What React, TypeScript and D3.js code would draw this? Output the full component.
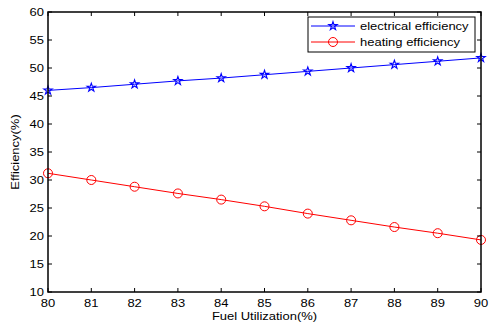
import * as d3 from "d3";

const utilization = [80, 81, 82, 83, 84, 85, 86, 87, 88, 89, 90];
const electrical = [46.0, 46.5, 47.1, 47.7, 48.2, 48.8, 49.4, 50.0, 50.6, 51.2, 51.8];
const heating = [31.2, 30.0, 28.8, 27.6, 26.5, 25.3, 24.0, 22.8, 21.6, 20.5, 19.3];
const yTicks = [10, 15, 20, 25, 30, 35, 40, 45, 50, 55, 60];
const seriesNames = ["electrical efficiency", "heating efficiency"];

const width = 492;
const height = 324;
const m = { left: 48, right: 11, top: 12, bottom: 32 };
const font = "Liberation Sans, Arial, sans-serif";

// MATLAB-style text looks a bit wider than Arial, so stretch it horizontally
const Label = ({
  x,
  y,
  anchor = "start",
  rotate = 0,
  children,
}: {
  x: number;
  y: number;
  anchor?: "start" | "middle" | "end";
  rotate?: number;
  children: React.ReactNode;
}) => (
  <text
    transform={`translate(${x},${y}) rotate(${rotate}) scale(1.18,1)`}
    textAnchor={anchor}
    fontFamily={font}
    fontSize={11}
  >
    {children}
  </text>
);

const App = () => {
  const x = d3
    .scaleLinear()
    .domain([80, 90])
    .range([m.left, width - m.right]);
  const y = d3
    .scaleLinear()
    .domain([10, 60])
    .range([height - m.bottom, m.top]);

  const line = d3
    .line<number>()
    .x((_, i) => x(utilization[i]))
    .y((d) => y(d));

  const star = d3.symbol(d3.symbolStar, 22)() ?? "";
  const x0 = m.left;
  const x1 = width - m.right;
  const y0 = height - m.bottom;
  const y1 = m.top;
  const tl = 4;

  return (
    <svg
      width={width}
      height={height}
      style={{ position: "absolute", left: 0, top: 0, background: "#fff" }}
    >
      {/* series */}
      <path d={line(electrical) ?? undefined} fill="none" stroke="#0000ff" strokeWidth={1} />
      {electrical.map((d, i) => (
        <path
          key={i}
          d={star}
          transform={`translate(${x(utilization[i])},${y(d)})`}
          fill="none"
          stroke="#0000ff"
          strokeWidth={1.1}
        />
      ))}
      <path d={line(heating) ?? undefined} fill="none" stroke="#ff0000" strokeWidth={1} />
      {heating.map((d, i) => (
        <circle
          key={i}
          cx={x(utilization[i])}
          cy={y(d)}
          r={4.5}
          fill="none"
          stroke="#ff0000"
          strokeWidth={1}
        />
      ))}

      {/* axes box */}
      <rect x={x0} y={y1} width={x1 - x0} height={y0 - y1} fill="none" stroke="#000" strokeWidth={1.5} />
      {utilization.map((t) => (
        <g key={t}>
          <line x1={x(t)} x2={x(t)} y1={y0} y2={y0 - tl} stroke="#000" />
          <line x1={x(t)} x2={x(t)} y1={y1} y2={y1 + tl} stroke="#000" />
          <Label x={x(t)} y={y0 + 15} anchor="middle">
            {t}
          </Label>
        </g>
      ))}
      {yTicks.map((t) => (
        <g key={t}>
          <line x1={x0} x2={x0 + tl} y1={y(t)} y2={y(t)} stroke="#000" />
          <line x1={x1} x2={x1 - tl} y1={y(t)} y2={y(t)} stroke="#000" />
          <Label x={x0 - 4} y={y(t) + 4} anchor="end">
            {t}
          </Label>
        </g>
      ))}

      <Label x={(x0 + x1) / 2} y={height - 4} anchor="middle">
        Fuel Utilization(%)
      </Label>
      <Label x={19} y={(y0 + y1) / 2} anchor="middle" rotate={-90}>
        Efficiency(%)
      </Label>

      {/* legend */}
      <rect x={308} y={17} width={167} height={35} fill="#fff" stroke="#000" strokeWidth={1} />
      {seriesNames.map((name, i) => {
        const ly = 26 + i * 16;
        const color = i === 0 ? "#0000ff" : "#ff0000";
        return (
          <g key={name}>
            <line x1={311} x2={355} y1={ly} y2={ly} stroke={color} />
            {i === 0 ? (
              <path d={star} transform={`translate(333,${ly})`} fill="none" stroke={color} strokeWidth={1.1} />
            ) : (
              <circle cx={333} cy={ly} r={4.5} fill="none" stroke={color} />
            )}
            <Label x={360} y={ly + 4}>
              {name}
            </Label>
          </g>
        );
      })}
    </svg>
  );
};

export default App;
